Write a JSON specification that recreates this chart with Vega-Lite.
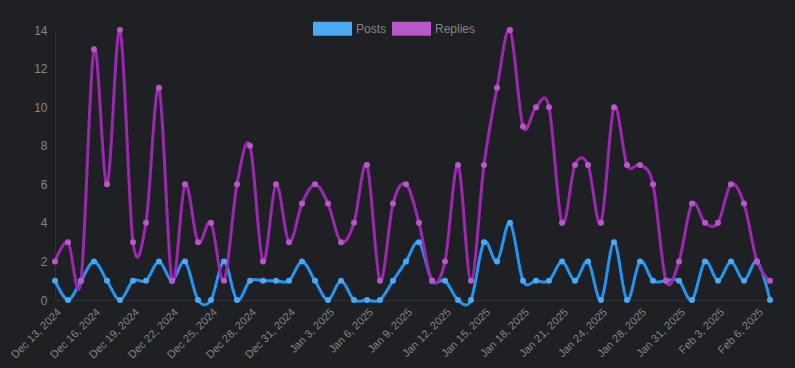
{
  "$schema": "https://vega.github.io/schema/vega-lite/v6.json",
  "width": 715,
  "height": 270,
  "autosize": "none",
  "padding": {"left": 55, "top": 30, "right": 25, "bottom": 68},
  "background": "#1f2023",
  "config": {"view": {"stroke": null}, "font": "Liberation Sans"},
  "data": {"values": [
    {"date": "Dec 13, 2024", "Posts": 1, "Replies": 2},
    {"date": "Dec 14, 2024", "Posts": 0, "Replies": 3},
    {"date": "Dec 15, 2024", "Posts": 1, "Replies": 1},
    {"date": "Dec 16, 2024", "Posts": 2, "Replies": 13},
    {"date": "Dec 17, 2024", "Posts": 1, "Replies": 6},
    {"date": "Dec 18, 2024", "Posts": 0, "Replies": 14},
    {"date": "Dec 19, 2024", "Posts": 1, "Replies": 3},
    {"date": "Dec 20, 2024", "Posts": 1, "Replies": 4},
    {"date": "Dec 21, 2024", "Posts": 2, "Replies": 11},
    {"date": "Dec 22, 2024", "Posts": 1, "Replies": 1},
    {"date": "Dec 23, 2024", "Posts": 2, "Replies": 6},
    {"date": "Dec 24, 2024", "Posts": 0, "Replies": 3},
    {"date": "Dec 25, 2024", "Posts": 0, "Replies": 4},
    {"date": "Dec 26, 2024", "Posts": 2, "Replies": 1},
    {"date": "Dec 27, 2024", "Posts": 0, "Replies": 6},
    {"date": "Dec 28, 2024", "Posts": 1, "Replies": 8},
    {"date": "Dec 29, 2024", "Posts": 1, "Replies": 2},
    {"date": "Dec 30, 2024", "Posts": 1, "Replies": 6},
    {"date": "Dec 31, 2024", "Posts": 1, "Replies": 3},
    {"date": "Jan 1, 2025", "Posts": 2, "Replies": 5},
    {"date": "Jan 2, 2025", "Posts": 1, "Replies": 6},
    {"date": "Jan 3, 2025", "Posts": 0, "Replies": 5},
    {"date": "Jan 4, 2025", "Posts": 1, "Replies": 3},
    {"date": "Jan 5, 2025", "Posts": 0, "Replies": 4},
    {"date": "Jan 6, 2025", "Posts": 0, "Replies": 7},
    {"date": "Jan 7, 2025", "Posts": 0, "Replies": 1},
    {"date": "Jan 8, 2025", "Posts": 1, "Replies": 5},
    {"date": "Jan 9, 2025", "Posts": 2, "Replies": 6},
    {"date": "Jan 10, 2025", "Posts": 3, "Replies": 4},
    {"date": "Jan 11, 2025", "Posts": 1, "Replies": 1},
    {"date": "Jan 12, 2025", "Posts": 1, "Replies": 2},
    {"date": "Jan 13, 2025", "Posts": 0, "Replies": 7},
    {"date": "Jan 14, 2025", "Posts": 0, "Replies": 1},
    {"date": "Jan 15, 2025", "Posts": 3, "Replies": 7},
    {"date": "Jan 16, 2025", "Posts": 2, "Replies": 11},
    {"date": "Jan 17, 2025", "Posts": 4, "Replies": 14},
    {"date": "Jan 18, 2025", "Posts": 1, "Replies": 9},
    {"date": "Jan 19, 2025", "Posts": 1, "Replies": 10},
    {"date": "Jan 20, 2025", "Posts": 1, "Replies": 10},
    {"date": "Jan 21, 2025", "Posts": 2, "Replies": 4},
    {"date": "Jan 22, 2025", "Posts": 1, "Replies": 7},
    {"date": "Jan 23, 2025", "Posts": 2, "Replies": 7},
    {"date": "Jan 24, 2025", "Posts": 0, "Replies": 4},
    {"date": "Jan 26, 2025", "Posts": 3, "Replies": 10},
    {"date": "Jan 27, 2025", "Posts": 0, "Replies": 7},
    {"date": "Jan 28, 2025", "Posts": 2, "Replies": 7},
    {"date": "Jan 29, 2025", "Posts": 1, "Replies": 6},
    {"date": "Jan 30, 2025", "Posts": 1, "Replies": 1},
    {"date": "Jan 31, 2025", "Posts": 1, "Replies": 2},
    {"date": "Feb 1, 2025", "Posts": 0, "Replies": 5},
    {"date": "Feb 2, 2025", "Posts": 2, "Replies": 4},
    {"date": "Feb 3, 2025", "Posts": 1, "Replies": 4},
    {"date": "Feb 4, 2025", "Posts": 2, "Replies": 6},
    {"date": "Feb 5, 2025", "Posts": 1, "Replies": 5},
    {"date": "Feb 6, 2025", "Posts": 2, "Replies": 2},
    {"date": "Feb 7, 2025", "Posts": 0, "Replies": 1}
  ]},
  "transform": [{"fold": ["Posts", "Replies"], "as": ["series", "value"]}],
  "encoding": {
    "x": {
      "field": "date", "type": "ordinal", "sort": null,
      "scale": {"type": "point", "padding": 0},
      "axis": {
        "title": null, "grid": false, "ticks": false, "labelPadding": 6,
        "domainColor": "#2e2f33", "labelColor": "#858585", "labelFontSize": 11,
        "labelAngle": -45, "labelAlign": "right", "labelBaseline": "top",
        "labelOverlap": false,
        "values": ["Dec 13, 2024", "Dec 16, 2024", "Dec 19, 2024", "Dec 22, 2024", "Dec 25, 2024", "Dec 28, 2024", "Dec 31, 2024", "Jan 3, 2025", "Jan 6, 2025", "Jan 9, 2025", "Jan 12, 2025", "Jan 15, 2025", "Jan 18, 2025", "Jan 21, 2025", "Jan 24, 2025", "Jan 28, 2025", "Jan 31, 2025", "Feb 3, 2025", "Feb 6, 2025"]
      }
    },
    "y": {
      "field": "value", "type": "quantitative",
      "scale": {"domain": [0, 14], "nice": false},
      "axis": {
        "title": null, "grid": false, "ticks": false, "labelPadding": 8,
        "domainColor": "#2e2f33", "labelColor": "#858585", "labelFontSize": 12,
        "values": [0, 2, 4, 6, 8, 10, 12, 14]
      }
    }
  },
  "layer": [
    {
      "mark": {"type": "line", "interpolate": "cardinal", "strokeWidth": 3},
      "encoding": {
        "color": {
          "field": "series", "type": "nominal",
          "scale": {"domain": ["Posts", "Replies"], "range": ["#2196f3", "#9c27b0"]},
          "legend": {
            "orient": "none", "legendX": 258, "legendY": -21, "direction": "horizontal",
            "title": null,
            "symbolType": "M-1,-0.36L1,-0.36L1,0.36L-1,0.36Z",
            "symbolSize": 1521, "symbolStrokeWidth": 0,
            "labelColor": "#858585", "labelFontSize": 12, "labelOffset": 4,
            "columnPadding": 5,
            "encode": {"symbols": {"update": {"fill": {"scale": "color", "field": "value"}, "opacity": {"value": 1}}}}
          }
        }
      }
    },
    {
      "mark": {"type": "point", "filled": true, "size": 36, "opacity": 1},
      "encoding": {
        "fill": {
          "field": "series", "type": "nominal",
          "scale": {"domain": ["Posts", "Replies"], "range": ["#4aaaf5", "#b957c9"]},
          "legend": null
        }
      }
    }
  ]
}
